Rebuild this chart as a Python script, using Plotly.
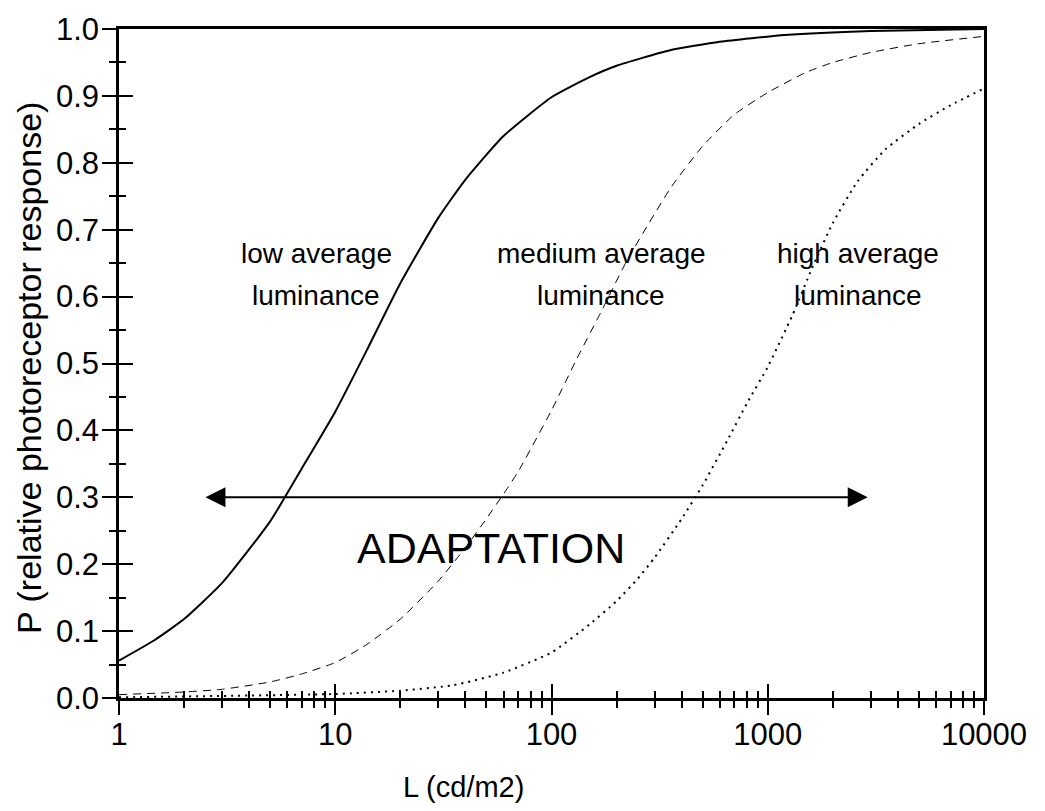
import numpy as np
import plotly.graph_objects as go

# ---------------- data ----------------
low_L = [1, 1.45, 2, 3, 5, 7, 10, 14, 20, 30, 40, 60, 100, 150, 200, 350, 600,
         1200, 3000, 10000]
low_P = [0.056, 0.086, 0.118, 0.172, 0.264, 0.343, 0.428, 0.520, 0.620, 0.718, 0.775,
         0.840, 0.898, 0.928, 0.945, 0.968, 0.981, 0.991, 0.997, 1.0]

mid_L = [1, 2, 3, 5, 7, 10, 14, 20, 30, 40, 50, 60, 70, 100, 130, 170, 220, 280, 360,
         500, 700, 1000, 1500, 2000, 3000, 5000, 10000]
mid_P = [0.005, 0.009, 0.013, 0.024, 0.036, 0.053, 0.080, 0.118, 0.175, 0.225, 0.268,
         0.305, 0.338, 0.430, 0.505, 0.578, 0.650, 0.708, 0.765, 0.825, 0.872, 0.905,
         0.935, 0.950, 0.965, 0.978, 0.989]

high_L = [1, 10, 20, 35, 60, 100, 150, 200, 250, 300, 400, 500, 650, 800, 1000, 1300,
          1600, 2000, 2600, 3500, 5000, 7000, 10000]
high_P = [0.001, 0.006, 0.011, 0.019, 0.038, 0.068, 0.110, 0.145, 0.178, 0.210, 0.268,
          0.318, 0.385, 0.440, 0.495, 0.572, 0.642, 0.710, 0.772, 0.820, 0.858, 0.886,
          0.911]

x_tick_vals = [1, 10, 100, 1000, 10000]
x_tick_text = ["1", "10", "100", "1000", "10000"]
x_minor_vals = [m * d for d in [1, 10, 100, 1000] for m in range(2, 10)]
y_tick_vals = [round(0.1 * i, 1) for i in range(11)]
y_tick_text = [f"{v:.1f}" for v in y_tick_vals]
y_minor_vals = [round(0.05 + 0.1 * i, 2) for i in range(10)]

label_lines = [("low average", "luminance", 8.15),
               ("medium average", "luminance", 170),
               ("high average", "luminance", 2614)]
label_P = [0.664, 0.602]
arrow_L = [2.47, 2900]
arrow_P = 0.3
adapt_text = ("ADAPTATION", 52.5, 0.224)

FONT = "Liberation Sans, Arial, sans-serif"

fig = go.Figure()
fig.add_trace(go.Scatter(x=low_L, y=low_P, mode="lines",
                         line=dict(color="black", width=2, shape="spline", smoothing=0.5),
                         showlegend=False, hoverinfo="skip"))
fig.add_trace(go.Scatter(x=mid_L, y=mid_P, mode="lines",
                         line=dict(color="black", width=1, dash="8px,6px", shape="spline", smoothing=0.5),
                         showlegend=False, hoverinfo="skip"))
fig.add_trace(go.Scatter(x=high_L, y=high_P, mode="lines",
                         line=dict(color="black", width=2, dash="2px,5px", shape="spline", smoothing=0.5),
                         showlegend=False, hoverinfo="skip"))
# invisible trace so the overlay axes (inside ticks) are drawn
fig.add_trace(go.Scatter(x=[1], y=[0], xaxis="x2", yaxis="y2", mode="markers",
                         marker=dict(opacity=0), showlegend=False, hoverinfo="skip"))

common_x = dict(type="log", range=[0, 4], tickvals=x_tick_vals, showgrid=False,
                zeroline=False, ticklen=14, tickwidth=1.5, tickcolor="black")
common_y = dict(range=[0, 1], tickvals=y_tick_vals, showgrid=False, zeroline=False,
                ticklen=14, tickwidth=1.5, tickcolor="black")

fig.update_layout(
    width=1045, height=811,
    margin=dict(l=119, r=61, t=23, b=113),
    paper_bgcolor="white", plot_bgcolor="white",
    font=dict(family=FONT, color="black"),
    xaxis=dict(**common_x, ticks="outside", ticktext=x_tick_text,
               tickfont=dict(size=31, family=FONT), showline=True, linecolor="black",
               linewidth=2.5, mirror=True, ticklabelstandoff=-7,
               minor=dict(tickvals=x_minor_vals, ticks="outside", ticklen=7,
                          tickwidth=1.5, tickcolor="black")),
    yaxis=dict(**common_y, ticks="outside", ticktext=y_tick_text,
               tickfont=dict(size=31, family=FONT), showline=True, linecolor="black",
               linewidth=2.5, mirror=True, ticklabelstandoff=-3,
               minor=dict(tickvals=y_minor_vals, ticks="outside", ticklen=7,
                          tickwidth=1.5, tickcolor="black")),
    xaxis2=dict(**common_x, overlaying="x", anchor="y2", ticks="inside",
                showticklabels=False, showline=False,
                minor=dict(tickvals=x_minor_vals, ticks="inside", ticklen=7,
                           tickwidth=1.5, tickcolor="black")),
    yaxis2=dict(**common_y, overlaying="y", anchor="x2", ticks="inside",
                showticklabels=False, showline=False,
                minor=dict(tickvals=y_minor_vals, ticks="inside", ticklen=7,
                           tickwidth=1.5, tickcolor="black")),
)

annotations = []
for line1, line2, lx in label_lines:
    for txt, py in zip([line1, line2], label_P):
        annotations.append(dict(x=np.log10(lx), y=py, xref="x", yref="y", text=txt,
                                showarrow=False, font=dict(size=28, family=FONT),
                                xanchor="center", yanchor="middle"))
annotations.append(dict(x=np.log10(adapt_text[1]), y=adapt_text[2], xref="x", yref="y",
                        text=adapt_text[0], showarrow=False,
                        font=dict(size=43, family=FONT), xanchor="center", yanchor="middle"))
annotations.append(dict(x=np.log10(arrow_L[1]), y=arrow_P, ax=np.log10(arrow_L[0]), ay=arrow_P,
                        xref="x", yref="y", axref="x", ayref="y", text="", showarrow=True,
                        arrowhead=2, startarrowhead=2, arrowside="end+start",
                        arrowsize=2.0, arrowwidth=2, arrowcolor="black",
                        standoff=0, startstandoff=0))
annotations.append(dict(x=(463 - 119) / 865, y=(698 - 788) / 675, xref="paper", yref="paper",
                        text="L (cd/m2)", showarrow=False, font=dict(size=29, family=FONT),
                        xanchor="center", yanchor="middle"))
annotations.append(dict(x=(29 - 119) / 865, y=(698 - 365) / 675, xref="paper", yref="paper",
                        text="P (relative photoreceptor response)", textangle=-90,
                        showarrow=False, font=dict(size=34, family=FONT),
                        xanchor="center", yanchor="middle"))
fig.update_layout(annotations=annotations)

fig.write_html("out.html")
